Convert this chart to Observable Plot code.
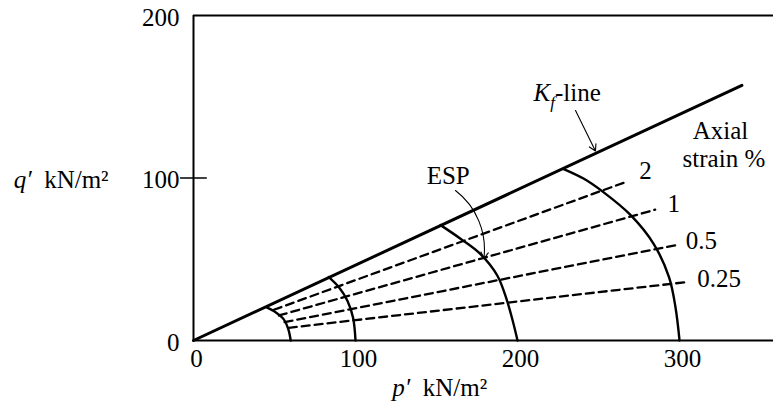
<!DOCTYPE html>
<html>
<head>
<meta charset="utf-8">
<script src="https://cdn.jsdelivr.net/npm/d3@7"></script>
<script src="https://cdn.jsdelivr.net/npm/@observablehq/plot@0.6"></script>
<style>
  html, body { margin: 0; padding: 0; background: #fff; }
</style>
</head>
<body>
<div id="chart"></div>
<script>
// ---- data (kN/m²) ----
const xTicks = [0, 100, 200, 300];
const yTicks = [0, 100, 200];
const yMinorTick = [100];

// K_f line
const kfLine = [[0, 0], [338.5, 157]];

// Effective stress paths (p', q')
const esp60  = [[45, 20.5], [50.5, 17.5], [55.5, 13.3], [58.5, 7], [60, 0]];
const esp100 = [[83.5, 39], [90, 32.5], [95, 24.5], [98.5, 14], [100, 0]];
const esp200 = [[152.5, 71], [165, 62.5], [177, 53.3], [187.5, 40], [193.5, 24.6], [197.5, 10.3], [200, 0]];
const esp300 = [[228.5, 105.5], [241, 99.5], [253, 91.3], [270, 77], [284, 59.5], [293.5, 39], [297.5, 20.5], [300, 0]];

// Axial strain contours
const strainLabels   = ["2", "1", "0.5", "0.25"];
const strainStart    = [[49.6, 18.9], [52.7, 15.4], [56.2, 11.3], [58.8, 7.8]];
const strainEnd      = [[266.7, 97.5], [285, 80.5], [299.6, 59], [304.7, 36]];
const strainLabelPos = [[279, 104.6], [296.5, 84], [313.5, 61.5], [324.5, 38]];

// Annotations
const espLabel   = {text: "ESP", x: 157.2, y: 101.5};
const espArrow   = {x1: 161.7, y1: 92.3, x2: 179.2, y2: 50.3};
const kfLabel    = {text: "Kf-line", x: 209.9, y: 152.6};
const kfArrow    = {x1: 235.8, y1: 141.5, x2: 248.1, y2: 116.6};
const axialLines = [{text: "Axial", x: 325.3, y: 129}, {text: "strain %", x: 327.4, y: 111.8}];
const qLabel     = {text: "q′  kN/m²", x: -111, y: 100};
const pLabel     = {text: "p′  kN/m²", x: 122.7, y: -29};

// ---- derived tables ----
const P = a => ({x: a[0], y: a[1]});
const espPaths = [esp60, esp100, esp200, esp300];
const strainTable = strainLabels.flatMap((s, i) => [
  {s, x: strainStart[i][0], y: strainStart[i][1]},
  {s, x: strainEnd[i][0], y: strainEnd[i][1]}
]);
const strainLabelTable = strainLabels.map((s, i) => ({s, x: strainLabelPos[i][0], y: strainLabelPos[i][1]}));

const chart = Plot.plot({
  width: 773,
  height: 401,
  marginLeft: 193,
  marginRight: 0,
  marginTop: 15,
  marginBottom: 61,
  x: {domain: [0, 358], axis: null},
  y: {domain: [0, 200], axis: null},
  style: {fontFamily: "'Liberation Serif', 'Times New Roman', serif", fontSize: "25px", color: "#000", background: "#fff"},
  marks: [
    // frame
    Plot.ruleY([0, 200], {stroke: "#000", strokeWidth: 2}),
    Plot.ruleX([0], {stroke: "#000", strokeWidth: 2}),
    Plot.ruleY(yMinorTick, {x1: -8, x2: 8.5, stroke: "#000", strokeWidth: 1.5}),
    // tick labels
    Plot.text(xTicks, {x: d => d, y: 0, text: d => String(d), dy: 18, dx: 3, fontSize: 25, lineAnchor: "middle"}),
    Plot.text(yTicks, {x: 0, y: d => d, text: d => String(d), dx: -14, dy: 2, textAnchor: "end", fontSize: 25, lineAnchor: "middle"}),
    // K_f line
    Plot.line(kfLine.map(P), {x: "x", y: "y", stroke: "#000", strokeWidth: 3}),
    // ESPs
    ...espPaths.map(a => Plot.line(a.map(P), {x: "x", y: "y", curve: "catmull-rom", stroke: "#000", strokeWidth: 2.4})),
    // strain contours
    Plot.line(strainTable, {x: "x", y: "y", z: "s", stroke: "#000", strokeWidth: 2.3, strokeDasharray: "8,5"}),
    Plot.text(strainLabelTable, {x: "x", y: "y", text: "s", fontSize: 25, lineAnchor: "middle"}),
    Plot.text(axialLines, {x: "x", y: "y", text: "text", fontSize: 25, lineAnchor: "middle"}),
    // ESP annotation
    Plot.text([espLabel], {x: "x", y: "y", text: "text", fontSize: 25, lineAnchor: "middle"}),
    Plot.arrow([espArrow], {x1: "x1", y1: "y1", x2: "x2", y2: "y2", bend: 30, stroke: "#000", strokeWidth: 1.1, headLength: 10}),
    // K_f annotation
    Plot.text([kfLabel], {x: "x", y: "y", text: "text", textAnchor: "start", fontSize: 25, lineAnchor: "middle", className: "kf-label"}),
    Plot.arrow([kfArrow], {x1: "x1", y1: "y1", x2: "x2", y2: "y2", stroke: "#000", strokeWidth: 1.1, headLength: 10}),
    // axis titles
    Plot.text([qLabel], {x: "x", y: "y", text: "text", textAnchor: "start", fontSize: 25, dy: 2, lineAnchor: "middle", className: "q-label"}),
    Plot.text([pLabel], {x: "x", y: "y", text: "text", textAnchor: "start", fontSize: 25, lineAnchor: "middle", className: "p-label"})
  ]
});
chart.style.overflow = "visible";
document.getElementById("chart").appendChild(chart);

// rich text: italics and subscripts
const kf = chart.querySelector(".kf-label text");
if (kf) kf.innerHTML = '<tspan font-style="italic">K</tspan><tspan font-style="italic" font-size="17" dy="7">f</tspan><tspan dy="-7">-line</tspan>';
for (const [cls, sym] of [[".q-label text", "q"], [".p-label text", "p"]]) {
  const t = chart.querySelector(cls);
  if (t) t.innerHTML = `<tspan font-style="italic">${sym}′</tspan><tspan xml:space="preserve">  kN/m²</tspan>`;
}
</script>
</body>
</html>
